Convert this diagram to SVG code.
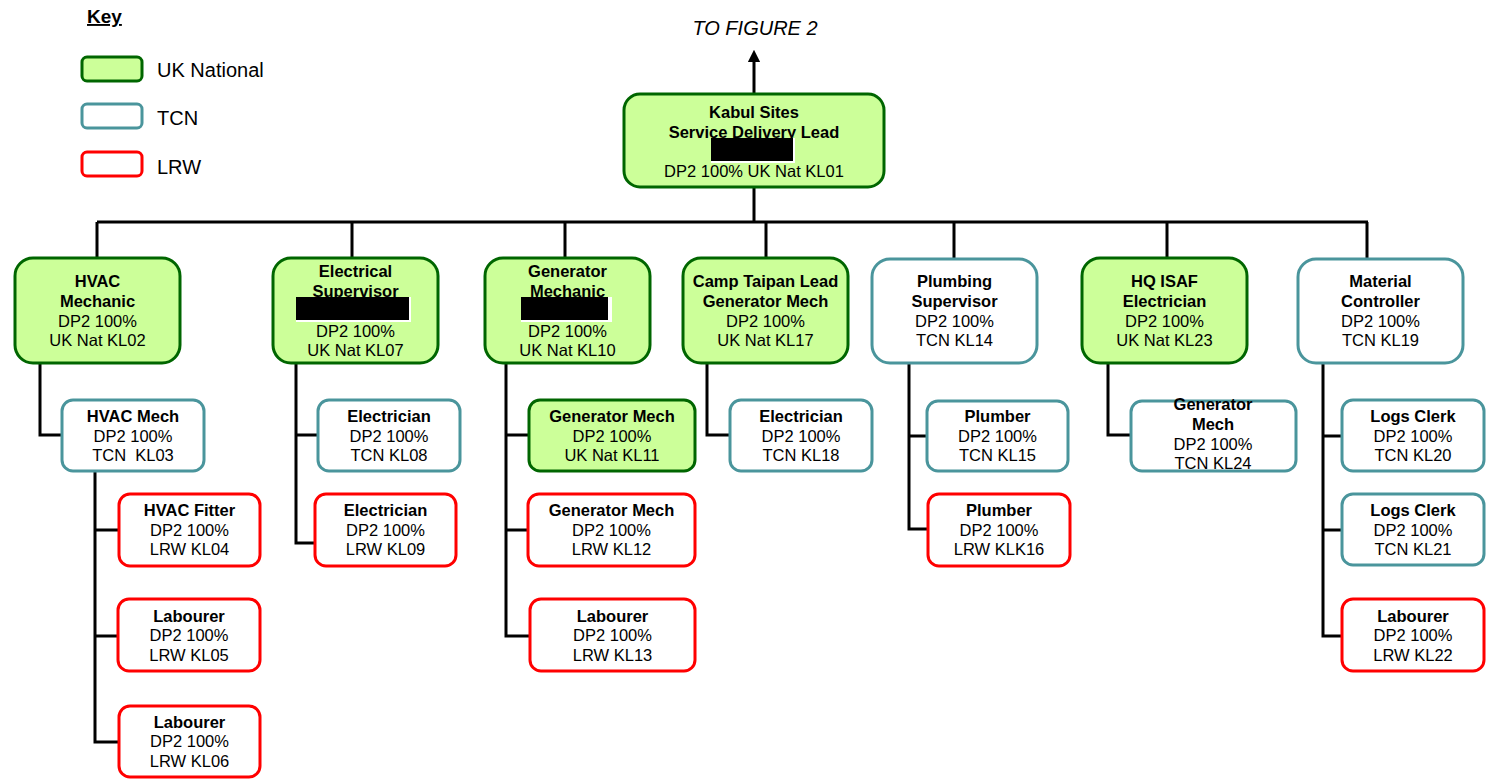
<svg xmlns="http://www.w3.org/2000/svg" width="1487" height="779" viewBox="0 0 1487 779">
  <defs>
    <marker id="arrow" viewBox="0 0 10 10" refX="5" refY="5" markerWidth="4.2" markerHeight="4.2" orient="auto-start-reverse" markerUnits="strokeWidth">
      <path d="M0,0 L10,5 L0,10 z" fill="#000"/>
    </marker>
    <style>
      text { font-family: "Liberation Sans", Arial, sans-serif; font-size: 16.5px; fill: #000; text-anchor: middle; }
      .b { font-weight: bold; }
      .uk { fill: #ccff99; stroke: #006600; stroke-width: 3; }
      .tcn { fill: #ffffff; stroke: #4a959c; stroke-width: 3; }
      .lrw { fill: #ffffff; stroke: #ff0000; stroke-width: 3; }
      .redact { fill: #000; }
      .gap { fill: #fff; }
      .conn { fill: none; stroke: #000; stroke-width: 3; }
      .legend { font-size: 20px; text-anchor: start; }
    </style>
  </defs>

  <rect width="1487" height="779" fill="#fff"/>

  <!-- key -->
  <g id="key">
    <text x="87" y="23" class="b" style="font-size:19px;text-anchor:start;text-decoration:underline">Key</text>
    <rect x="82" y="57" width="60" height="24" rx="5" class="uk"/>
    <text x="157" y="77" class="legend">UK National</text>
    <rect x="82" y="104" width="60" height="24" rx="5" class="tcn"/>
    <text x="157" y="125" class="legend">TCN</text>
    <rect x="82" y="152" width="60" height="24" rx="5" class="lrw"/>
    <text x="157" y="174" class="legend">LRW</text>
  </g>

  <text x="755" y="35" style="font-size:20px;font-style:italic">TO FIGURE 2</text>

  <!-- connectors -->
  <g id="connectors">
    <line x1="754" y1="93" x2="754" y2="56" class="conn" marker-end="url(#arrow)"/>
    <path class="conn" d="M754,187 V222 M97,222 H1368"/>
    <path class="conn" d="M97,222 V258 M352,222 V258 M565,222 V258 M766,222 V258 M954,222 V258 M1167,222 V258 M1367,222 V258"/>
    <path class="conn" d="M40,363 V435 H62"/>
    <path class="conn" d="M95,471 V742 H119 M95,530 H119 M95,636 H118"/>
    <path class="conn" d="M296,363 V543 H315 M296,435 H318"/>
    <path class="conn" d="M506,363 V636 H530 M506,435 H529 M506,530 H528"/>
    <path class="conn" d="M707,363 V435 H730"/>
    <path class="conn" d="M909,363 V529 H927 M909,436 H927"/>
    <path class="conn" d="M1108,363 V435 H1131"/>
    <path class="conn" d="M1323,363 V636 H1342 M1323,436 H1342 M1323,530 H1342"/>
  </g>

  <!-- top level -->
  <g id="kl01">
    <rect x="624" y="94" width="260" height="93" rx="16" class="uk"/>
    <text x="754" y="118" class="b">Kabul Sites</text>
    <text x="754" y="138" class="b">Service Delivery Lead</text>
    <rect x="711" y="138" width="84" height="25" class="gap"/>
    <rect x="711" y="138" width="82" height="23" class="redact"/>
    <text x="754" y="177">DP2 100% UK Nat KL01</text>
  </g>

  <!-- second level -->
  <g id="kl02">
    <rect x="15" y="258" width="165" height="105" rx="18" class="uk"/>
    <text x="97.5" y="287" class="b">HVAC</text>
    <text x="97.5" y="307" class="b">Mechanic</text>
    <text x="97.5" y="327">DP2 100%</text>
    <text x="97.5" y="346">UK Nat KL02</text>
  </g>
  <g id="kl07">
    <rect x="273" y="258" width="165" height="105" rx="18" class="uk"/>
    <text x="355.5" y="277" class="b">Electrical</text>
    <text x="355.5" y="297" class="b">Supervisor</text>
    <rect x="296" y="297" width="115" height="25" class="gap"/>
    <rect x="296" y="297" width="113" height="23" class="redact"/>
    <text x="355.5" y="337">DP2 100%</text>
    <text x="355.5" y="356">UK Nat KL07</text>
  </g>
  <g id="kl10">
    <rect x="485" y="258" width="165" height="105" rx="18" class="uk"/>
    <text x="567.5" y="277" class="b">Generator</text>
    <text x="567.5" y="297" class="b">Mechanic</text>
    <rect x="521" y="297" width="91" height="25" class="gap"/>
    <rect x="521" y="297" width="87" height="23" class="redact"/>
    <text x="567.5" y="337">DP2 100%</text>
    <text x="567.5" y="356">UK Nat KL10</text>
  </g>
  <g id="kl17">
    <rect x="683" y="258" width="165" height="105" rx="18" class="uk"/>
    <text x="765.5" y="287" class="b">Camp Taipan Lead</text>
    <text x="765.5" y="307" class="b">Generator Mech</text>
    <text x="765.5" y="327">DP2 100%</text>
    <text x="765.5" y="346">UK Nat KL17</text>
  </g>
  <g id="kl14">
    <rect x="872" y="259" width="165" height="104" rx="18" class="tcn"/>
    <text x="954.5" y="287" class="b">Plumbing</text>
    <text x="954.5" y="307" class="b">Supervisor</text>
    <text x="954.5" y="327">DP2 100%</text>
    <text x="954.5" y="346">TCN KL14</text>
  </g>
  <g id="kl23">
    <rect x="1082" y="258" width="165" height="105" rx="18" class="uk"/>
    <text x="1164.5" y="287" class="b">HQ ISAF</text>
    <text x="1164.5" y="307" class="b">Electrician</text>
    <text x="1164.5" y="327">DP2 100%</text>
    <text x="1164.5" y="346">UK Nat KL23</text>
  </g>
  <g id="kl19">
    <rect x="1298" y="259" width="165" height="104" rx="18" class="tcn"/>
    <text x="1380.5" y="287" class="b">Material</text>
    <text x="1380.5" y="307" class="b">Controller</text>
    <text x="1380.5" y="327">DP2 100%</text>
    <text x="1380.5" y="346">TCN KL19</text>
  </g>

  <!-- HVAC branch -->
  <g id="kl03">
    <rect x="62" y="400" width="142" height="71" rx="11" class="tcn"/>
    <text x="133" y="422" class="b">HVAC Mech</text>
    <text x="133" y="442">DP2 100%</text>
    <text x="133" y="461" xml:space="preserve">TCN  KL03</text>
  </g>
  <g id="kl04">
    <rect x="119" y="494" width="141" height="72" rx="11" class="lrw"/>
    <text x="189.5" y="516" class="b">HVAC Fitter</text>
    <text x="189.5" y="536">DP2 100%</text>
    <text x="189.5" y="555">LRW KL04</text>
  </g>
  <g id="kl05">
    <rect x="118" y="599" width="142" height="72" rx="11" class="lrw"/>
    <text x="189" y="622" class="b">Labourer</text>
    <text x="189" y="641">DP2 100%</text>
    <text x="189" y="661">LRW KL05</text>
  </g>
  <g id="kl06">
    <rect x="119" y="706" width="141" height="71" rx="11" class="lrw"/>
    <text x="189.5" y="728" class="b">Labourer</text>
    <text x="189.5" y="747">DP2 100%</text>
    <text x="189.5" y="767">LRW KL06</text>
  </g>

  <!-- Electrical branch -->
  <g id="kl08">
    <rect x="318" y="400" width="142" height="71" rx="11" class="tcn"/>
    <text x="389" y="422" class="b">Electrician</text>
    <text x="389" y="442">DP2 100%</text>
    <text x="389" y="461">TCN KL08</text>
  </g>
  <g id="kl09">
    <rect x="315" y="494" width="141" height="72" rx="11" class="lrw"/>
    <text x="385.5" y="516" class="b">Electrician</text>
    <text x="385.5" y="536">DP2 100%</text>
    <text x="385.5" y="555">LRW KL09</text>
  </g>

  <!-- Generator branch -->
  <g id="kl11">
    <rect x="529" y="400" width="166" height="71" rx="11" class="uk"/>
    <text x="612" y="422" class="b">Generator Mech</text>
    <text x="612" y="442">DP2 100%</text>
    <text x="612" y="461">UK Nat KL11</text>
  </g>
  <g id="kl12">
    <rect x="528" y="494" width="167" height="72" rx="11" class="lrw"/>
    <text x="611.5" y="516" class="b">Generator Mech</text>
    <text x="611.5" y="536">DP2 100%</text>
    <text x="611.5" y="555">LRW KL12</text>
  </g>
  <g id="kl13">
    <rect x="530" y="599" width="165" height="72" rx="11" class="lrw"/>
    <text x="612.5" y="622" class="b">Labourer</text>
    <text x="612.5" y="641">DP2 100%</text>
    <text x="612.5" y="661">LRW KL13</text>
  </g>

  <!-- Camp Taipan branch -->
  <g id="kl18">
    <rect x="730" y="400" width="142" height="71" rx="11" class="tcn"/>
    <text x="801" y="422" class="b">Electrician</text>
    <text x="801" y="442">DP2 100%</text>
    <text x="801" y="461">TCN KL18</text>
  </g>

  <!-- Plumbing branch -->
  <g id="kl15">
    <rect x="927" y="401" width="141" height="70" rx="11" class="tcn"/>
    <text x="997.5" y="422" class="b">Plumber</text>
    <text x="997.5" y="442">DP2 100%</text>
    <text x="997.5" y="461">TCN KL15</text>
  </g>
  <g id="kl16">
    <rect x="928" y="494" width="142" height="72" rx="11" class="lrw"/>
    <text x="999" y="516" class="b">Plumber</text>
    <text x="999" y="536">DP2 100%</text>
    <text x="999" y="555">LRW KLK16</text>
  </g>

  <!-- HQ ISAF branch -->
  <g id="kl24">
    <rect x="1131" y="401" width="165" height="70" rx="11" class="tcn"/>
    <text x="1213" y="410" class="b">Generator</text>
    <text x="1213" y="430" class="b">Mech</text>
    <text x="1213" y="450">DP2 100%</text>
    <text x="1213" y="469">TCN KL24</text>
  </g>

  <!-- Material Controller branch -->
  <g id="kl20">
    <rect x="1342" y="400" width="142" height="71" rx="11" class="tcn"/>
    <text x="1413" y="422" class="b">Logs Clerk</text>
    <text x="1413" y="442">DP2 100%</text>
    <text x="1413" y="461">TCN KL20</text>
  </g>
  <g id="kl21">
    <rect x="1342" y="494" width="142" height="71" rx="11" class="tcn"/>
    <text x="1413" y="516" class="b">Logs Clerk</text>
    <text x="1413" y="536">DP2 100%</text>
    <text x="1413" y="555">TCN KL21</text>
  </g>
  <g id="kl22">
    <rect x="1342" y="599" width="142" height="72" rx="11" class="lrw"/>
    <text x="1413" y="622" class="b">Labourer</text>
    <text x="1413" y="641">DP2 100%</text>
    <text x="1413" y="661">LRW KL22</text>
  </g>
</svg>
